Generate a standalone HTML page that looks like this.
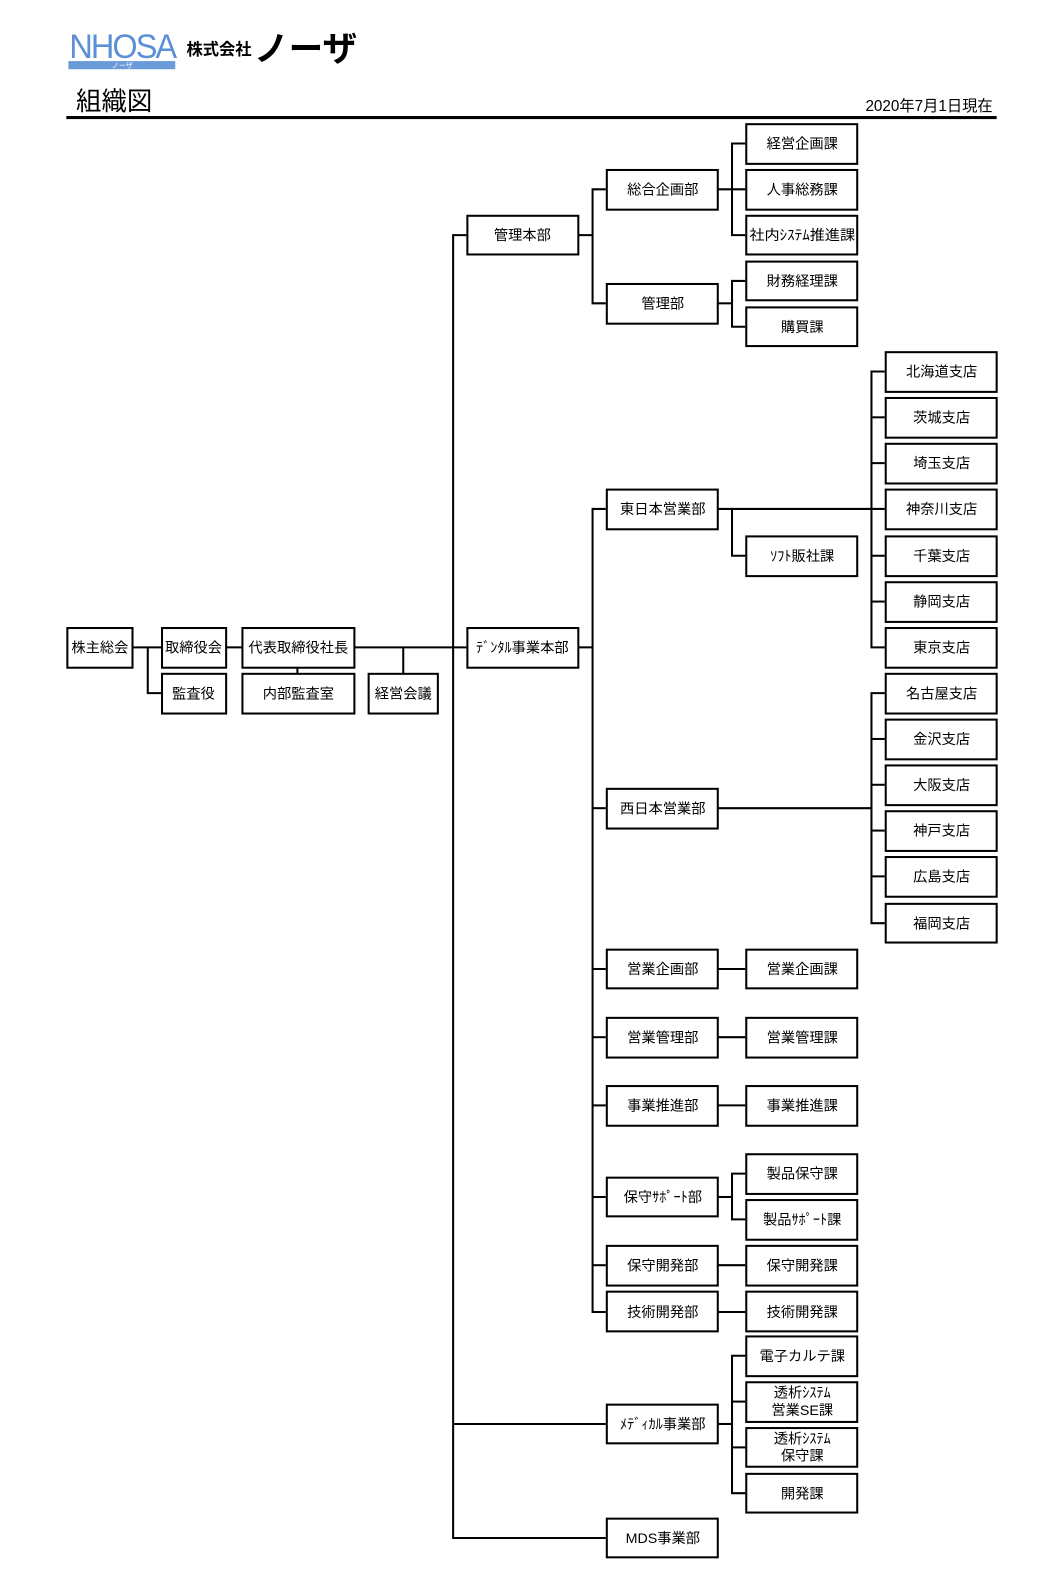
<!DOCTYPE html>
<html><head><meta charset="utf-8">
<style>
html,body{margin:0;padding:0;background:#fff;overflow:hidden;}
svg{display:block;}
text{font-family:"Liberation Sans","Noto Sans CJK JP",sans-serif;font-size:14px;fill:#000;text-anchor:middle;}
</style></head><body>
<svg width="1063" height="1596" viewBox="0 0 1044 1568" xmlns="http://www.w3.org/2000/svg">
<!-- logo -->
<text x="120" y="57" style="font-size:34px;fill:#5b8fd6;letter-spacing:-2px" textLength="104" lengthAdjust="spacingAndGlyphs">NHOSA</text>
<rect x="67" y="60" width="105" height="8" fill="#6a9ad8"/>
<text x="120" y="67" style="font-size:7px;fill:#fff">ノーザ</text>
<text x="215" y="54" style="font-size:16px;font-weight:bold">株式会社</text>
<text x="300" y="60" style="font-size:34px;font-weight:bold">ノーザ</text>
<text x="112" y="108" style="font-size:25px">組織図</text>
<text x="975" y="109" style="font-size:15px;text-anchor:end">2020年7月1日現在</text>
<rect x="65" y="114" width="914" height="3" fill="#000"/>

<g stroke="#000" stroke-width="2" fill="none">
<line x1="130" y1="636" x2="158" y2="636"/>
<polyline points="145,636 145,681 158,681"/>
<line x1="222" y1="636" x2="237" y2="636"/>
<line x1="292" y1="656" x2="292" y2="662"/>
<line x1="348" y1="636" x2="458" y2="636"/>
<line x1="396" y1="636" x2="396" y2="662"/>
<polyline points="458,231 445,231 445,1511 595,1511"/>
<line x1="445" y1="1399" x2="595" y2="1399"/>
<line x1="568" y1="231" x2="582" y2="231"/>
<polyline points="595,186 582,186 582,298 595,298"/>
<line x1="705" y1="186" x2="732" y2="186"/>
<polyline points="732,141 719,141 719,231 732,231"/>
<line x1="705" y1="298" x2="719" y2="298"/>
<polyline points="732,276 719,276 719,321 732,321"/>
<line x1="568" y1="636" x2="582" y2="636"/>
<polyline points="595,500 582,500 582,1289 595,1289"/>
<line x1="582" y1="794" x2="595" y2="794"/>
<line x1="582" y1="952" x2="595" y2="952"/>
<line x1="582" y1="1019" x2="595" y2="1019"/>
<line x1="582" y1="1086" x2="595" y2="1086"/>
<line x1="582" y1="1176" x2="595" y2="1176"/>
<line x1="582" y1="1243" x2="595" y2="1243"/>
<line x1="705" y1="500" x2="869" y2="500"/>
<polyline points="719,500 719,546 732,546"/>
<polyline points="869,365 856,365 856,636 869,636"/>
<line x1="856" y1="410" x2="869" y2="410"/>
<line x1="856" y1="455" x2="869" y2="455"/>
<line x1="856" y1="546" x2="869" y2="546"/>
<line x1="856" y1="591" x2="869" y2="591"/>
<line x1="705" y1="794" x2="856" y2="794"/>
<polyline points="869,681 856,681 856,907 869,907"/>
<line x1="856" y1="726" x2="869" y2="726"/>
<line x1="856" y1="771" x2="869" y2="771"/>
<line x1="856" y1="816" x2="869" y2="816"/>
<line x1="856" y1="861" x2="869" y2="861"/>
<line x1="705" y1="952" x2="732" y2="952"/>
<line x1="705" y1="1019" x2="732" y2="1019"/>
<line x1="705" y1="1086" x2="732" y2="1086"/>
<line x1="705" y1="1176" x2="719" y2="1176"/>
<polyline points="732,1153 719,1153 719,1198 732,1198"/>
<line x1="705" y1="1243" x2="732" y2="1243"/>
<line x1="705" y1="1289" x2="732" y2="1289"/>
<line x1="705" y1="1399" x2="719" y2="1399"/>
<polyline points="732,1332 719,1332 719,1467 732,1467"/>
<line x1="719" y1="1377" x2="732" y2="1377"/>
<line x1="719" y1="1422" x2="732" y2="1422"/>

<rect x="66" y="617" width="64" height="39" fill="#fff"/>
<rect x="159" y="617" width="63" height="39" fill="#fff"/>
<rect x="159" y="662" width="63" height="39" fill="#fff"/>
<rect x="238" y="617" width="110" height="39" fill="#fff"/>
<rect x="238" y="662" width="110" height="39" fill="#fff"/>
<rect x="362" y="662" width="68" height="39" fill="#fff"/>
<rect x="459" y="212" width="109" height="38" fill="#fff"/>
<rect x="459" y="617" width="109" height="39" fill="#fff"/>
</g>
<g stroke="#000" stroke-width="2" fill="#fff">
<rect x="596" y="167" width="109" height="39"/>
<rect x="596" y="279" width="109" height="39"/>
<rect x="596" y="481" width="109" height="39"/>
<rect x="596" y="775" width="109" height="39"/>
<rect x="596" y="933" width="109" height="38"/>
<rect x="596" y="1000" width="109" height="39"/>
<rect x="596" y="1067" width="109" height="39"/>
<rect x="596" y="1157" width="109" height="38"/>
<rect x="596" y="1224" width="109" height="39"/>
<rect x="596" y="1269" width="109" height="39"/>
<rect x="596" y="1380" width="109" height="38"/>
<rect x="596" y="1492" width="109" height="38"/>

<rect x="733" y="122" width="109" height="39"/>
<rect x="733" y="167" width="109" height="39"/>
<rect x="733" y="212" width="109" height="38"/>
<rect x="733" y="257" width="109" height="38"/>
<rect x="733" y="302" width="109" height="38"/>
<rect x="733" y="527" width="109" height="39"/>
<rect x="733" y="933" width="109" height="38"/>
<rect x="733" y="1000" width="109" height="39"/>
<rect x="733" y="1067" width="109" height="39"/>
<rect x="733" y="1134" width="109" height="39"/>
<rect x="733" y="1179" width="109" height="39"/>
<rect x="733" y="1224" width="109" height="39"/>
<rect x="733" y="1269" width="109" height="39"/>
<rect x="733" y="1313" width="109" height="39"/>
<rect x="733" y="1358" width="109" height="39"/>
<rect x="733" y="1403" width="109" height="38"/>
<rect x="733" y="1448" width="109" height="38"/>

<rect x="870" y="346" width="109" height="39"/>
<rect x="870" y="391" width="109" height="39"/>
<rect x="870" y="436" width="109" height="39"/>
<rect x="870" y="481" width="109" height="39"/>
<rect x="870" y="527" width="109" height="39"/>
<rect x="870" y="572" width="109" height="39"/>
<rect x="870" y="617" width="109" height="39"/>
<rect x="870" y="662" width="109" height="39"/>
<rect x="870" y="707" width="109" height="39"/>
<rect x="870" y="752" width="109" height="39"/>
<rect x="870" y="797" width="109" height="39"/>
<rect x="870" y="842" width="109" height="39"/>
<rect x="870" y="888" width="109" height="38"/>
</g>

<text x="98" y="641">株主総会</text>
<text x="190" y="641">取締役会</text>
<text x="190" y="686">監査役</text>
<text x="293" y="641">代表取締役社長</text>
<text x="293" y="686">内部監査室</text>
<text x="396" y="686">経営会議</text>
<text x="513" y="236">管理本部</text>
<text x="513" y="641">ﾃﾞﾝﾀﾙ事業本部</text>

<text x="651" y="191">総合企画部</text>
<text x="651" y="303">管理部</text>
<text x="651" y="505">東日本営業部</text>
<text x="651" y="799">西日本営業部</text>
<text x="651" y="957">営業企画部</text>
<text x="651" y="1024">営業管理部</text>
<text x="651" y="1091">事業推進部</text>
<text x="651" y="1181">保守ｻﾎﾟｰﾄ部</text>
<text x="651" y="1248">保守開発部</text>
<text x="651" y="1294">技術開発部</text>
<text x="651" y="1404">ﾒﾃﾞｨｶﾙ事業部</text>
<text x="651" y="1516">MDS事業部</text>

<text x="788" y="146">経営企画課</text>
<text x="788" y="191">人事総務課</text>
<text x="788" y="236" textLength="104" lengthAdjust="spacingAndGlyphs">社内ｼｽﾃﾑ推進課</text>
<text x="788" y="281">財務経理課</text>
<text x="788" y="326">購買課</text>
<text x="788" y="551">ｿﾌﾄ販社課</text>
<text x="788" y="957">営業企画課</text>
<text x="788" y="1024">営業管理課</text>
<text x="788" y="1091">事業推進課</text>
<text x="788" y="1158">製品保守課</text>
<text x="788" y="1203">製品ｻﾎﾟｰﾄ課</text>
<text x="788" y="1248">保守開発課</text>
<text x="788" y="1294">技術開発課</text>
<text x="788" y="1337">電子カルテ課</text>
<text x="788" y="1373">透析ｼｽﾃﾑ</text>
<text x="788" y="1390">営業SE課</text>
<text x="788" y="1418">透析ｼｽﾃﾑ</text>
<text x="788" y="1435">保守課</text>
<text x="788" y="1472">開発課</text>

<text x="925" y="370">北海道支店</text>
<text x="925" y="415">茨城支店</text>
<text x="925" y="460">埼玉支店</text>
<text x="925" y="505">神奈川支店</text>
<text x="925" y="551">千葉支店</text>
<text x="925" y="596">静岡支店</text>
<text x="925" y="641">東京支店</text>
<text x="925" y="686">名古屋支店</text>
<text x="925" y="731">金沢支店</text>
<text x="925" y="776">大阪支店</text>
<text x="925" y="821">神戸支店</text>
<text x="925" y="866">広島支店</text>
<text x="925" y="912">福岡支店</text>
</svg>
</body></html>
